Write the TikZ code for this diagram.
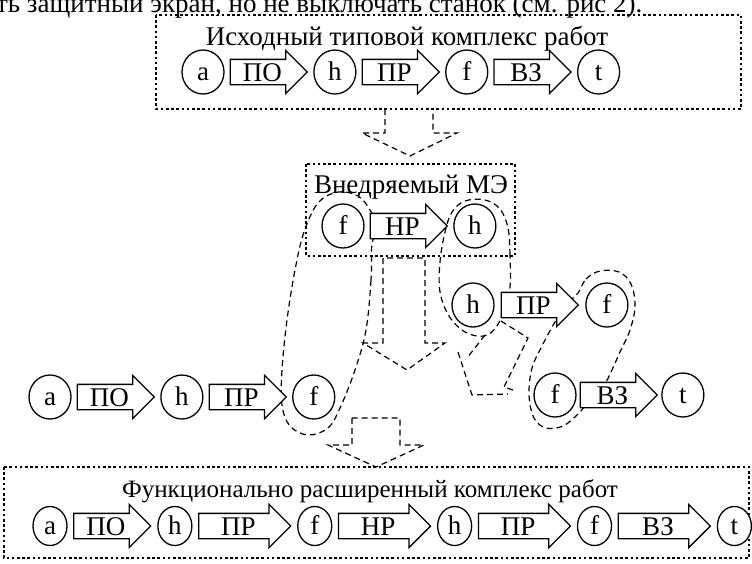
\documentclass[tikz,border=0pt]{standalone}
\usepackage{fontspec}
\setmainfont{Liberation Serif}
\usetikzlibrary{shapes.geometric,shapes.arrows,positioning,backgrounds}

\begin{document}
\begin{tikzpicture}[
    x=1pt, y=-1pt,
    every node/.style={font=\fontsize{27}{30}\selectfont},
    st/.style={
        draw,
        ellipse,
        line width=1.3pt,
        fill=white,
        inner sep=0pt,
        text height=17pt, text depth=0pt,
        minimum width=42pt,
        minimum height=44pt
    },
    op/.style={
        draw,
        single arrow,
        line width=1.3pt,
        fill=white,
        single arrow head extend=9pt,
        single arrow tip angle=90,
        inner xsep=9pt, inner ysep=3pt,
        text height=18pt, text depth=0pt,
        minimum height=77pt
    },
    frame/.style={line width=2.6pt, dash pattern=on 2.6pt off 2.6pt},
    lasso/.style={line width=1.2pt, dash pattern=on 6pt off 4pt},
    node distance=5pt
]
\useasboundingbox (0,0) rectangle (752,563);
\clip (0,0) rectangle (752,563);

\node[anchor=base east] (txt) at (646,12) {ть защитный экран, но не выключать станок (см. рис 2).};

% source complex
\draw[frame] (156,15) rectangle (741,109);
\node[anchor=base] (ttlsrc) at (407,45) {Исходный типовой комплекс работ};
\node[st] (a0) at (203,72) {a};
\node[op, right=of a0] (po0) {ПО};
\node[st, right=of po0] (h0) {h};
\node[op, right=of h0] (pr0) {ПР};
\node[st, right=of pr0] (f0) {f};
\node[op, right=of f0] (vz0) {ВЗ};
\node[st, right=of vz0] (t0) {t};

% inserted element
\draw[frame] (306,164) rectangle (515,256);
\node[anchor=base] (ttlme) at (411,193) {Внедряемый МЭ};
\node[st] (f1) at (343,226) {f};
\node[op, right=of f1] (nr1) {НР};
\node[st, right=of nr1] (h1) {h};

% split chain
\node[st] (a2) at (50,397) {a};
\node[op, right=of a2] (po2) {ПО};
\node[st, right=of po2] (h2) {h};
\node[op, right=of h2] (pr2) {ПР};
\node[st, right=of pr2] (f2) {f};

\node[st] (h3) at (473,305) {h};
\node[op, right=6pt of h3] (pr3) {ПР};
\node[st, right=6pt of pr3] (f3) {f};

\node[st] (f4) at (555,395) {f};
\node[op, right=3pt of f4] (vz4) {ВЗ};
\node[st, right=3pt of vz4] (t4) {t};

% extended complex
\draw[frame] (4,467) rectangle (749,558);
\node[anchor=base, font=\fontsize{25}{28}\selectfont] (ttlext) at (370,497) {Функционально расширенный комплекс работ};
\begin{scope}[st/.append style={minimum width=34pt, minimum height=39pt},
              op/.append style={inner xsep=16pt, minimum height=92pt}, node distance=5.5pt]
\node[st] (a5) at (50,526) {a};
\node[op, inner xsep=9pt, minimum height=77pt, right=of a5] (po5) {ПО};
\node[st, right=of po5] (h5) {h};
\node[op, right=of h5] (pr5) {ПР};
\node[st, right=of pr5] (f5) {f};
\node[op, right=of f5] (nr5) {НР};
\node[st, right=of nr5] (h6) {h};
\node[op, right=of h6] (pr6) {ПР};
\node[st, right=of pr6] (f6) {f};
\node[op, right=of f6] (vz6) {ВЗ};
\node[st, right=of vz6] (t6) {t};
\end{scope}

\begin{scope}[on background layer]
% lassos joining equal events
\draw[lasso] plot[smooth cycle, tension=0.6] coordinates {
    (372,244) (371,280) (366,330) (355,370) (340,408) (328,428) (308,435)
    (290,426) (282,405) (282,370) (287,320) (295,270) (304,232) (318,203)
    (338,192) (358,196) (370,210) (378,228)};
\draw[lasso] plot[smooth cycle, tension=0.6] coordinates {
    (510,287) (510,255) (508,228) (500,209) (485,200) (465,201) (452,212)
    (445,232) (440,262) (440,292) (449,316) (465,332) (484,336) (497,326)
    (505,305)};
\draw[lasso] plot[smooth cycle, tension=0.6] coordinates {
    (578,293) (586,279) (600,271) (619,272) (631,284) (635,306) (630,330)
    (620,352) (611,372) (604,385) (590,400) (578,414) (563,426) (546,428)
    (534,418) (529,395) (532,368) (542,346) (555,322) (568,303)};

% block arrows
\draw[lasso] (385,109) -- (385,133) -- (362,133) -- (410,156) -- (457,133) -- (433,133) -- (433,109);
\draw[lasso] (383,258) -- (383,343) -- (363,343) -- (407,370) -- (445,343) -- (425,343) -- (425,258) -- cycle;
\draw[lasso] (352,418) -- (352,445) -- (328,445) -- (376,467) -- (424,445) -- (400,445) -- (400,418) -- cycle;
\draw[lasso] (501,321) -- (528,338) -- (504,387) -- (516,391);
\draw[lasso] (485,335) -- (467,358);
\draw[lasso] (458,352) -- (472,395) -- (508,394);
\end{scope}
\end{tikzpicture}
\end{document}
